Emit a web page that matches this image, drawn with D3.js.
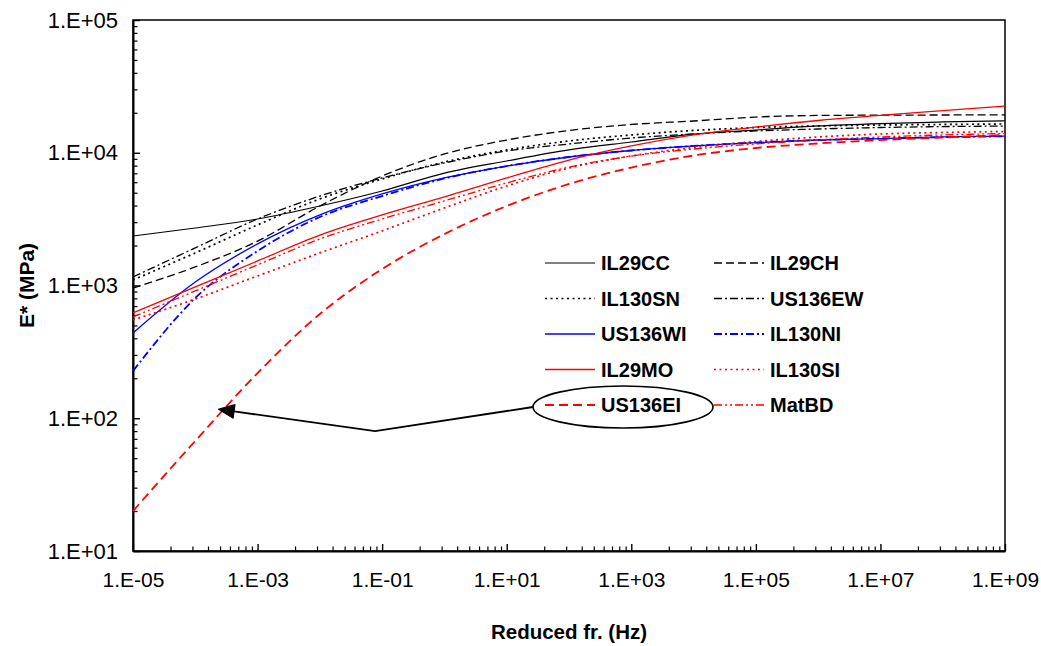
<!DOCTYPE html>
<html>
<head>
<meta charset="utf-8">
<script src="https://cdn.jsdelivr.net/npm/d3@7/dist/d3.min.js"></script>
<style>
  html, body { margin: 0; padding: 0; background: #fff; }
  svg { display: block; font-family: "Liberation Sans", Arial, sans-serif; }
</style>
</head>
<body>
<svg id="chart" width="1041" height="646"></svg>
<script>
// Reduced frequency (Hz) at which each master curve is tabulated
const freq = [1e-5, 1e-4, 1e-3, 1e-2, 1e-1, 1e0, 1e1, 1e2, 1e3, 1e4, 1e5, 1e6, 1e7, 1e8, 1e9];

// |E*| (MPa) for each mixture
const IL29CC  = [2360, 2710, 3170, 3970, 5150, 7030, 8670, 10500, 12050, 13800, 14830, 15920, 16600, 17060, 17420];
const IL29CH  = [957, 1380, 2160, 3970, 6680, 9790, 12470, 14720, 16330, 17340, 18580, 19100, 19200, 19250, 19300];
const IL130SN = [1100, 1760, 2860, 4490, 6340, 8510, 10500, 12270, 13610, 14720, 15490, 15920, 16180, 16330, 16480];
const US136EW = [1160, 1920, 3170, 4720, 6460, 8380, 10300, 11640, 12910, 13840, 14590, 15100, 15490, 15740, 15890];
const US136WI = [439, 1062, 2056, 3400, 4890, 6460, 7940, 9290, 10400, 11250, 11940, 12470, 12790, 13150, 13370];
const IL130NI = [227, 805, 1820, 3280, 4720, 6400, 7940, 9290, 10400, 11250, 11940, 12470, 12790, 13100, 13300];
const IL29MO  = [621, 975, 1531, 2400, 3400, 4650, 6460, 8810, 11250, 13610, 15630, 17500, 19100, 20800, 22490];
const IL130SI = [550, 791, 1180, 1760, 2580, 3840, 5620, 7670, 9460, 10960, 12160, 13150, 13840, 14220, 14450];
const US136EI = [20, 67.5, 219, 610, 1330, 2440, 3970, 5820, 7740, 9530, 10860, 11750, 12470, 13030, 13610];
const MatBD   = [580, 910, 1430, 2240, 3170, 4340, 5920, 7800, 9440, 10670, 11640, 12470, 13150, 13610, 13960];

// Legend order (two columns) and names
const seriesNames = ["IL29CC", "IL29CH", "IL130SN", "US136EW", "US136WI", "IL130NI", "IL29MO", "IL130SI", "US136EI", "MatBD"];
const seriesValues = [IL29CC, IL29CH, IL130SN, US136EW, US136WI, IL130NI, IL29MO, IL130SI, US136EI, MatBD];

// Axis tick labels
const xTickValues = [1e-5, 1e-3, 1e-1, 1e1, 1e3, 1e5, 1e7, 1e9];
const yTickValues = [1e1, 1e2, 1e3, 1e4, 1e5];
const xTitle = "Reduced fr. (Hz)";
const yTitle = "E* (MPa)";

// Annotation: arrow pointing at the US136EI curve
const arrowTip = { f: 2.34e-4, E: 117 };
const arrowElbow = { f: 0.077, E: 80 };

// Line styles
const styles = {
  IL29CC:  { color: "#000000", dash: null,          width: 1.2 },
  IL29CH:  { color: "#000000", dash: "8,4",         width: 1.3 },
  IL130SN: { color: "#000000", dash: "2,3.5",       width: 1.7 },
  US136EW: { color: "#000000", dash: "8,3,2,3",     width: 1.3 },
  US136WI: { color: "#0000ff", dash: null,          width: 1.3 },
  IL130NI: { color: "#0000ff", dash: "8,3,2,3",     width: 1.8 },
  IL29MO:  { color: "#ff0000", dash: null,          width: 1.3 },
  IL130SI: { color: "#ff0000", dash: "2,3.5",       width: 1.7 },
  US136EI: { color: "#ff0000", dash: "9,5",         width: 1.8 },
  MatBD:   { color: "#ff0000", dash: "8,3,2,3,2,3", width: 1.3 }
};

const svg = d3.select("#chart");
const plot = { left: 133, right: 1005, top: 20, bottom: 551 };

const x = d3.scaleLog().domain([1e-5, 1e9]).range([plot.left, plot.right]);
const y = d3.scaleLog().domain([1e1, 1e5]).range([plot.bottom, plot.top]);

// Minor ticks: y in base 10, x uses 100-based majors so minors sit at m^2
const yMinor = [];
for (let k = 1; k <= 4; k++) for (let m = 2; m <= 9; m++) yMinor.push(m * Math.pow(10, k));
const xMinor = [];
for (let k = 0; k < 7; k++) for (let m = 2; m <= 9; m++) xMinor.push(1e-5 * m * m * Math.pow(100, k));

const expFmt = v => {
  const e = Math.round(Math.log10(v));
  const s = e < 0 ? "-" : "+";
  return "1.E" + s + String(Math.abs(e)).padStart(2, "0");
};

// Plot frame
svg.append("rect")
  .attr("x", plot.left).attr("y", plot.top)
  .attr("width", plot.right - plot.left).attr("height", plot.bottom - plot.top)
  .attr("fill", "none").attr("stroke", "#000").attr("stroke-width", 1.5);

// Minor ticks
svg.append("g").attr("transform", `translate(${plot.left},0)`)
  .call(d3.axisLeft(y).tickValues(yMinor).tickSize(-4.5).tickFormat(""))
  .call(g => g.select(".domain").remove())
  .selectAll("line").attr("stroke", "#000").attr("stroke-width", 1.2);
svg.append("g").attr("transform", `translate(0,${plot.bottom})`)
  .call(d3.axisBottom(x).tickValues(xMinor).tickSize(-4.5).tickFormat(""))
  .call(g => g.select(".domain").remove())
  .selectAll("line").attr("stroke", "#000").attr("stroke-width", 1.2);

// Major ticks with labels
const yAxis = svg.append("g").attr("transform", `translate(${plot.left},0)`)
  .call(d3.axisLeft(y).tickValues(yTickValues).tickSize(-7).tickSizeOuter(0).tickPadding(15).tickFormat(expFmt));
yAxis.select(".domain").attr("stroke", "#000").attr("stroke-width", 2);
yAxis.selectAll("line").attr("stroke", "#000").attr("stroke-width", 1.4);
yAxis.selectAll("text").attr("font-size", 22).attr("fill", "#000")
  .attr("font-family", "'Liberation Sans', Arial, sans-serif");

const xAxis = svg.append("g").attr("transform", `translate(0,${plot.bottom})`)
  .call(d3.axisBottom(x).tickValues(xTickValues).tickSize(-7).tickSizeOuter(0).tickPadding(21).tickFormat(expFmt));
xAxis.select(".domain").attr("stroke", "#000").attr("stroke-width", 2);
xAxis.selectAll("line").attr("stroke", "#000").attr("stroke-width", 1.4);
xAxis.selectAll("text").attr("font-size", 21).attr("fill", "#000")
  .attr("font-family", "'Liberation Sans', Arial, sans-serif");

// Axis titles
svg.append("text")
  .attr("x", (plot.left + plot.right) / 2).attr("y", 639)
  .attr("text-anchor", "middle").attr("font-size", 20.5).attr("font-weight", "bold")
  .text(xTitle);
svg.append("text")
  .attr("transform", `translate(34,${(plot.top + plot.bottom) / 2}) rotate(-90)`)
  .attr("text-anchor", "middle").attr("font-size", 21).attr("font-weight", "bold")
  .text(yTitle);

// Curves
const line = d3.line().x(d => x(d[0])).y(d => y(d[1])).curve(d3.curveMonotoneX);
const curves = svg.append("g");
seriesNames.forEach((name, i) => {
  const st = styles[name];
  curves.append("path")
    .datum(freq.map((f, j) => [f, seriesValues[i][j]]))
    .attr("d", line)
    .attr("fill", "none")
    .attr("stroke", st.color)
    .attr("stroke-width", st.width)
    .attr("stroke-dasharray", st.dash)
    .attr("stroke-linejoin", "round");
});

// Legend (two columns)
const legend = svg.append("g");
const legendCols = [545, 714];
const legendRow0 = 263, legendRowStep = 35.5, sampleLen = 50;
seriesNames.forEach((name, i) => {
  const st = styles[name];
  const cx = legendCols[i % 2];
  const cy = legendRow0 + Math.floor(i / 2) * legendRowStep;
  legend.append("line")
    .attr("x1", cx).attr("x2", cx + sampleLen).attr("y1", cy).attr("y2", cy)
    .attr("stroke", st.color).attr("stroke-width", st.width)
    .attr("stroke-dasharray", st.dash);
  legend.append("text")
    .attr("x", cx + sampleLen + 6).attr("y", cy).attr("dy", "0.36em")
    .attr("font-size", 20).attr("font-weight", "bold").text(name);
});

// Ellipse around the highlighted legend entry and the pointing arrow
const hiIdx = seriesNames.indexOf("US136EI");
const hiY = legendRow0 + Math.floor(hiIdx / 2) * legendRowStep + 2;
const ell = { cx: 623, cy: hiY, rx: 90, ry: 21 };
svg.append("ellipse")
  .attr("cx", ell.cx).attr("cy", ell.cy).attr("rx", ell.rx).attr("ry", ell.ry)
  .attr("fill", "none").attr("stroke", "#000").attr("stroke-width", 1.6);

const tip = [x(arrowTip.f), y(arrowTip.E)];
const elbow = [x(arrowElbow.f), y(arrowElbow.E)];
const start = [ell.cx - ell.rx, ell.cy];
const ang = Math.atan2(tip[1] - elbow[1], tip[0] - elbow[0]);
const headLen = 16, headHalf = 7;
const base = [tip[0] - headLen * Math.cos(ang), tip[1] - headLen * Math.sin(ang)];
svg.append("path")
  .attr("d", d3.line()([start, elbow, base]))
  .attr("fill", "none").attr("stroke", "#000").attr("stroke-width", 1.8);
svg.append("path")
  .attr("d", d3.line()([
    tip,
    [base[0] + headHalf * Math.sin(ang), base[1] - headHalf * Math.cos(ang)],
    [base[0] - headHalf * Math.sin(ang), base[1] + headHalf * Math.cos(ang)]
  ]) + "Z")
  .attr("fill", "#000").attr("stroke", "#000");
</script>
</body>
</html>
